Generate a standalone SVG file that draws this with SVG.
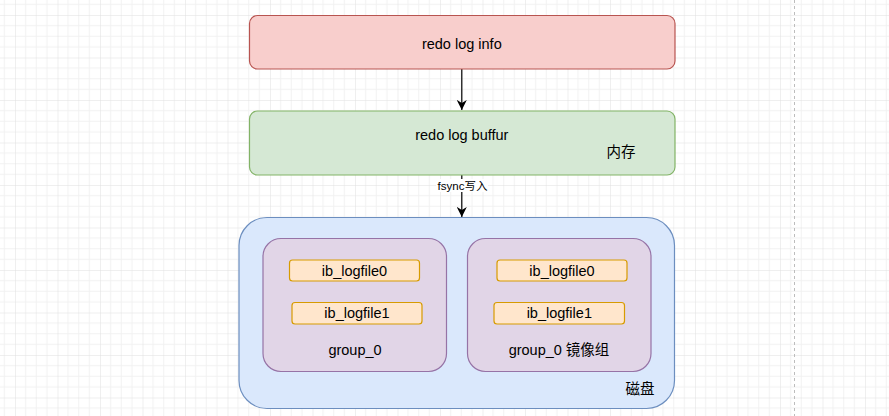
<svg xmlns="http://www.w3.org/2000/svg" width="889" height="416" viewBox="0 0 889 416">
<defs>
<pattern id="grid" x="15" y="15" width="42.5" height="42.5" patternUnits="userSpaceOnUse">
<path d="M10.625 0V42.5M21.25 0V42.5M31.875 0V42.5M0 10.625H42.5M0 21.25H42.5M0 31.875H42.5" stroke="#f1f1f1" stroke-width="1" fill="none"/>
<path d="M0 0V42.5M0 0H42.5" stroke="#e0e0e0" stroke-width="1" fill="none"/>
</pattern>
<marker id="arr" viewBox="0 0 10 10" refX="10" refY="5" markerWidth="10" markerHeight="10" markerUnits="userSpaceOnUse" orient="auto">
<path d="M0 0L10 5L0 10L3 5Z" fill="#000"/>
</marker>
<style>
text{font-family:"Liberation Sans",Arial,"Noto Sans CJK SC",sans-serif;fill:#000;text-anchor:middle;dominant-baseline:central}
.t{font-size:14.5px}
.s{font-size:11.5px}
.red{fill:#f8cecc;stroke:#b85450;stroke-width:1.2}
.green{fill:#d5e8d4;stroke:#82b366;stroke-width:1.2}
.blue{fill:#dae8fc;stroke:#6c8ebf;stroke-width:1.2}
.purple{fill:#e1d5e7;stroke:#9673a6;stroke-width:1.2}
.orange{fill:#ffe6cc;stroke:#d79b00;stroke-width:1.2}
.edge{stroke:#000;stroke-width:1.2;fill:none}
</style>
</defs>
<rect width="889" height="416" fill="#fff"/>
<rect width="889" height="416" fill="url(#grid)"/>
<line x1="794.5" y1="0" x2="794.5" y2="416" stroke="#bdbdbd" stroke-width="1" stroke-dasharray="3 3"/>

<g id="connectors">
<line class="edge" x1="461.8" y1="69" x2="461.8" y2="110" marker-end="url(#arr)"/>
<line class="edge" x1="461.8" y1="175" x2="461.8" y2="217" marker-end="url(#arr)"/>
<rect x="436" y="179" width="52" height="13" fill="#fff"/>
<text class="s" x="462.5" y="185.5">fsync写入</text>
</g>

<g id="redo-log-info">
<rect class="red" x="249.5" y="15.5" width="425.5" height="53.5" rx="8"/>
<text class="t" x="461.8" y="43.5">redo log info</text>
</g>

<g id="redo-log-buffur">
<rect class="green" x="249.5" y="111" width="425.5" height="64" rx="8"/>
<text class="t" x="461.8" y="135">redo log buffur</text>
<text class="t" x="621" y="152">内存</text>
</g>

<g id="disk">
<rect class="blue" x="239" y="217.5" width="435.5" height="191" rx="28"/>
<text class="t" x="640" y="389">磁盘</text>
</g>

<g id="group0">
<rect class="purple" x="263" y="238.5" width="183.5" height="133" rx="18"/>
<text class="t" x="355" y="350">group_0</text>
</g>

<g id="group0-logfile0">
<rect class="orange" x="289.5" y="260" width="130" height="21" rx="3"/>
<text class="t" x="354.5" y="270.5">ib_logfile0</text>
</g>

<g id="group0-logfile1">
<rect class="orange" x="292" y="302.5" width="130" height="21.5" rx="3"/>
<text class="t" x="357" y="313.3">ib_logfile1</text>
</g>

<g id="group0-mirror">
<rect class="purple" x="467.5" y="238.5" width="183.5" height="133" rx="18"/>
<text class="t" x="559" y="350">group_0 镜像组</text>
</g>

<g id="mirror-logfile0">
<rect class="orange" x="497" y="260" width="130" height="21" rx="3"/>
<text class="t" x="562" y="270.5">ib_logfile0</text>
</g>

<g id="mirror-logfile1">
<rect class="orange" x="494" y="302.5" width="130.5" height="21.5" rx="3"/>
<text class="t" x="559.3" y="313.3">ib_logfile1</text>
</g>
</svg>
